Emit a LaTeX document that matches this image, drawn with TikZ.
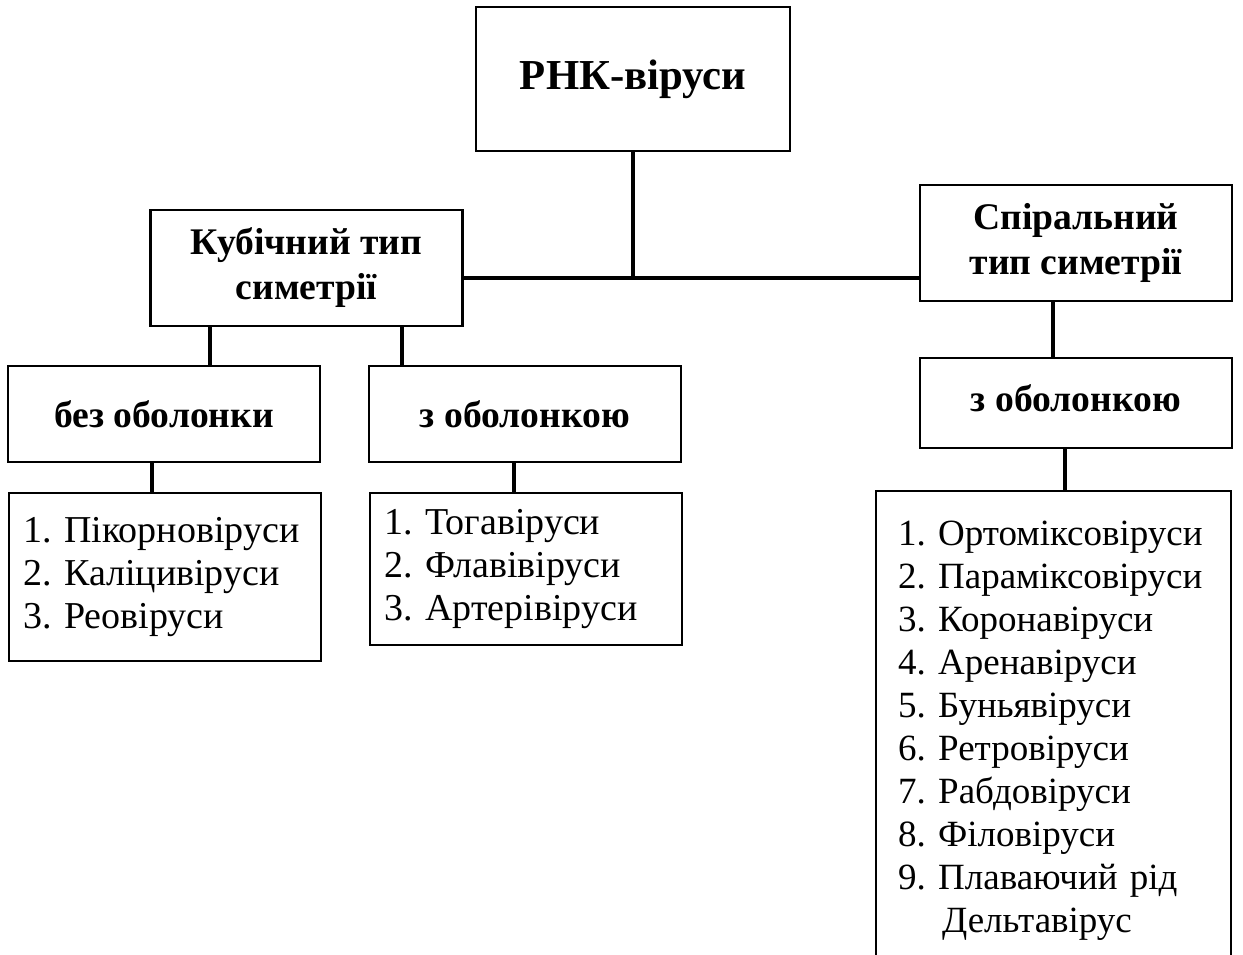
\documentclass[tikz,border=0pt]{standalone}
\usepackage{fontspec}
\setmainfont{Liberation Serif}
\usetikzlibrary{positioning,calc}
\frenchspacing

\begin{document}
\begin{tikzpicture}[x=1pt,y=-1pt,
box/.style={
  draw,
  line width=2.2pt,
  minimum width=312pt,
  inner sep=0pt,
  align=center,
  font=\fontsize{37.6}{45}\selectfont\bfseries},
listbox/.style={
  draw,
  line width=2.2pt,
  anchor=north west,
  inner xsep=14pt,
  inner ysep=0pt,
  align=left,
  font=\fontsize{38}{43}\selectfont},
link/.style={line width=3.5pt}
]
\useasboundingbox (0,0) rectangle (1243,954);
\clip (0,0) rectangle (1243,954);
\node[box, minimum width=314pt, minimum height=144pt,
  font=\fontsize{42.7}{50}\selectfont\bfseries] (rna) at (633,79) {РНК-віруси};
\node[box, minimum height=116pt] (kub) at (306.5,268) {Кубічний тип\\симетрії};
\node[box, minimum height=116pt] (spir) at (1076,243) {Спіральний\\тип симетрії};
\node[box, minimum height=96pt] (bez) at (164,414) {без оболонки};
\node[box, minimum height=96pt] (zob) at (525,414) {з оболонкою};
\node[box, minimum height=90pt] (zobs) at (1076,403) {\raisebox{9pt}{з оболонкою}};
\node[listbox, text width=284pt, minimum height=168pt] (lst1) at (8,492)
  {1.~Пікорновіруси\\2.~Каліцивіруси\\3.~Реовіруси};
\node[listbox, text width=284pt, minimum height=152pt] (lst2) at (369,492)
  {1.~Тогавіруси\\2.~Флавівіруси\\3.~Артерівіруси};
\node[listbox, inner xsep=22pt, text width=311pt, minimum height=479pt,
  font=\fontsize{37}{43}\selectfont] (lst3) at (875,490)
  {1.~Ортоміксовіруси\\2.~Параміксовіруси\\3.~Коронавіруси\\4.~Аренавіруси\\5.~Буньявіруси\\
   6.~Ретровіруси\\7.~Рабдовіруси\\8.~Філовіруси\\9.~Плаваючий~рід\\\hspace*{44pt}Дельтавірус};
\coordinate (hub) at (rna.south |- 0,278);
\draw[link] (rna.south) -- (hub);
\draw[link] (kub.east |- hub) -- (spir.west |- hub);
\foreach \Top/\Bot/\X in {kub/bez/210, kub/zob/402, bez/lst1/152,
  zob/lst2/514, spir/zobs/1053, zobs/lst3/1065}
  \draw[link] (\Top.south -| \X,0) -- (\Bot.north -| \X,0);
\end{tikzpicture}
\end{document}
